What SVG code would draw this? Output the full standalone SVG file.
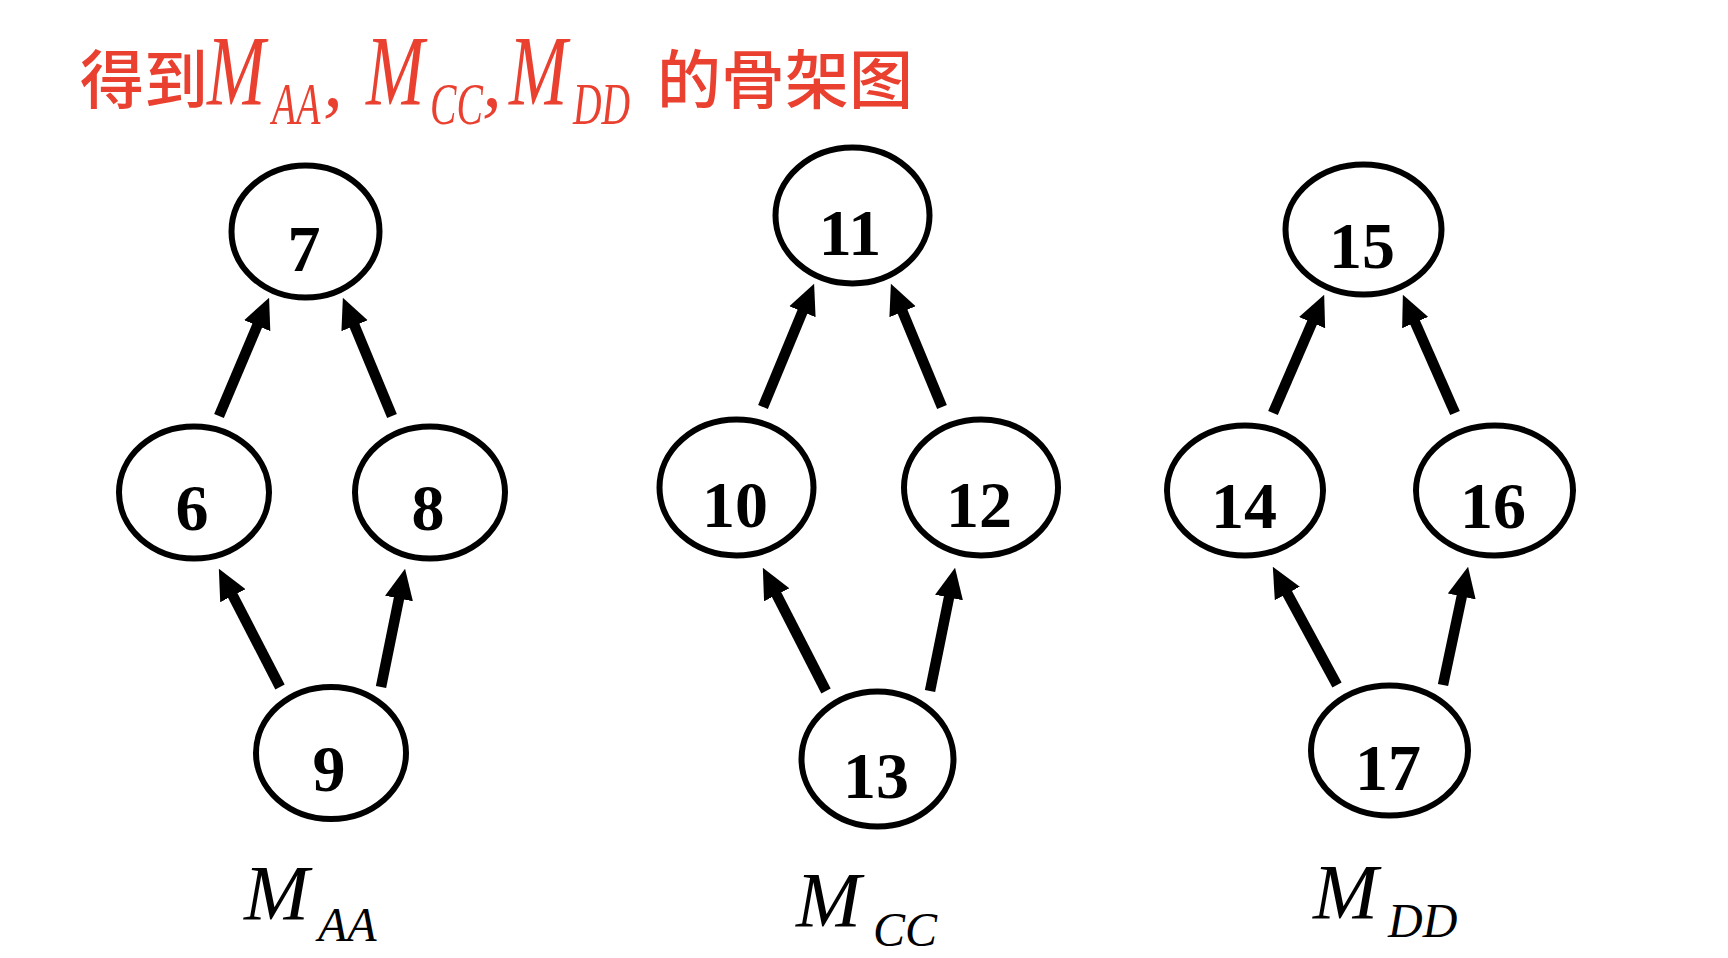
<svg xmlns="http://www.w3.org/2000/svg" width="1728" height="958" viewBox="0 0 1728 958">
<style>
.node ellipse{fill:#fff;stroke:#000;stroke-width:6}
.node text{font-family:"Liberation Serif","Times New Roman",serif;font-weight:bold;font-size:66px;fill:#000;text-anchor:middle}
.edge{stroke:#000;stroke-width:10.5;fill:none;marker-end:url(#ah)}
.cjk{font-family:"Noto Sans CJK SC","Noto Sans",sans-serif;font-weight:500;font-size:64px;fill:#EA4030}
.tm{font-family:"Liberation Serif","Times New Roman",serif;font-style:italic;fill:#EA4030}
.lab{font-family:"Liberation Serif","Times New Roman",serif;font-style:italic;fill:#000}
</style>
<defs>
<marker id="ah" viewBox="0 0 30 28" refX="5" refY="14" markerWidth="2.9" markerHeight="2.75" orient="auto">
<path d="M0,0 L30,14 L0,28 z" fill="#000"/>
</marker>
</defs>
<rect width="1728" height="958" fill="#fff"/>
<g id="title">
<text class="cjk" x="80" y="103">得到</text>
<text class="tm" font-size="100" transform="translate(207,104) scale(0.7,1)">M</text>
<text class="tm" font-size="60" transform="translate(272,124) scale(0.66,1)">AA</text>
<text class="tm" font-size="80" x="323" y="106">,</text>
<text class="tm" font-size="100" transform="translate(366,104) scale(0.7,1)">M</text>
<text class="tm" font-size="60" transform="translate(430,124) scale(0.66,1)">CC</text>
<text class="tm" font-size="80" x="482" y="106">,</text>
<text class="tm" font-size="100" transform="translate(509,104) scale(0.7,1)">M</text>
<text class="tm" font-size="60" transform="translate(573,124) scale(0.66,1)">DD</text>
<text class="cjk" x="657" y="103">的骨架图</text>
</g>
<g id="connectors">
<line class="edge" x1="219" y1="416" x2="259.2" y2="321"/>
<line class="edge" x1="392" y1="416" x2="352.6" y2="321.1"/>
<line class="edge" x1="280" y1="687" x2="230.5" y2="591.2"/>
<line class="edge" x1="381" y1="687" x2="400" y2="593.5"/>
<line class="edge" x1="763" y1="407" x2="804.4" y2="307.1"/>
<line class="edge" x1="942" y1="407" x2="900.6" y2="307.1"/>
<line class="edge" x1="826" y1="691" x2="774.4" y2="590.3"/>
<line class="edge" x1="930" y1="691" x2="950" y2="592.5"/>
<line class="edge" x1="1273" y1="413" x2="1314.1" y2="318"/>
<line class="edge" x1="1455" y1="413" x2="1413.1" y2="317.9"/>
<line class="edge" x1="1337" y1="685" x2="1284.9" y2="589"/>
<line class="edge" x1="1443" y1="685" x2="1462.8" y2="591.5"/>
</g>
<g id="n7" class="node"><ellipse cx="305.5" cy="231.5" rx="74" ry="66"/><text x="304" y="271">7</text></g>
<g id="n6" class="node"><ellipse cx="194" cy="492.5" rx="75" ry="66"/><text x="192" y="530">6</text></g>
<g id="n8" class="node"><ellipse cx="430" cy="492.5" rx="75" ry="66"/><text x="428" y="530">8</text></g>
<g id="n9" class="node"><ellipse cx="331" cy="753" rx="75" ry="66"/><text x="329" y="791">9</text></g>
<g id="n11" class="node"><ellipse cx="852.5" cy="215.5" rx="77" ry="68"/><text x="850" y="255">11</text></g>
<g id="n10" class="node"><ellipse cx="736.5" cy="487.5" rx="77" ry="68"/><text x="735" y="527">10</text></g>
<g id="n12" class="node"><ellipse cx="981" cy="487.5" rx="77" ry="68"/><text x="979" y="527">12</text></g>
<g id="n13" class="node"><ellipse cx="877.5" cy="759" rx="76" ry="67.5"/><text x="876" y="798">13</text></g>
<g id="n15" class="node"><ellipse cx="1363.5" cy="229.5" rx="78" ry="65"/><text x="1362" y="268">15</text></g>
<g id="n14" class="node"><ellipse cx="1245" cy="490.5" rx="78" ry="65"/><text x="1244" y="528">14</text></g>
<g id="n16" class="node"><ellipse cx="1494.5" cy="490.5" rx="78.5" ry="65"/><text x="1493" y="528">16</text></g>
<g id="n17" class="node"><ellipse cx="1389.5" cy="750.5" rx="78.5" ry="65"/><text x="1388" y="790">17</text></g>
<g id="labels">
<text class="lab" font-size="78" x="244" y="919">M</text>
<text class="lab" font-size="48" x="318" y="941">AA</text>
<text class="lab" font-size="78" x="796" y="926">M</text>
<text class="lab" font-size="48" x="873" y="946">CC</text>
<text class="lab" font-size="78" x="1313" y="918">M</text>
<text class="lab" font-size="48" x="1388" y="937">DD</text>
</g>
</svg>
